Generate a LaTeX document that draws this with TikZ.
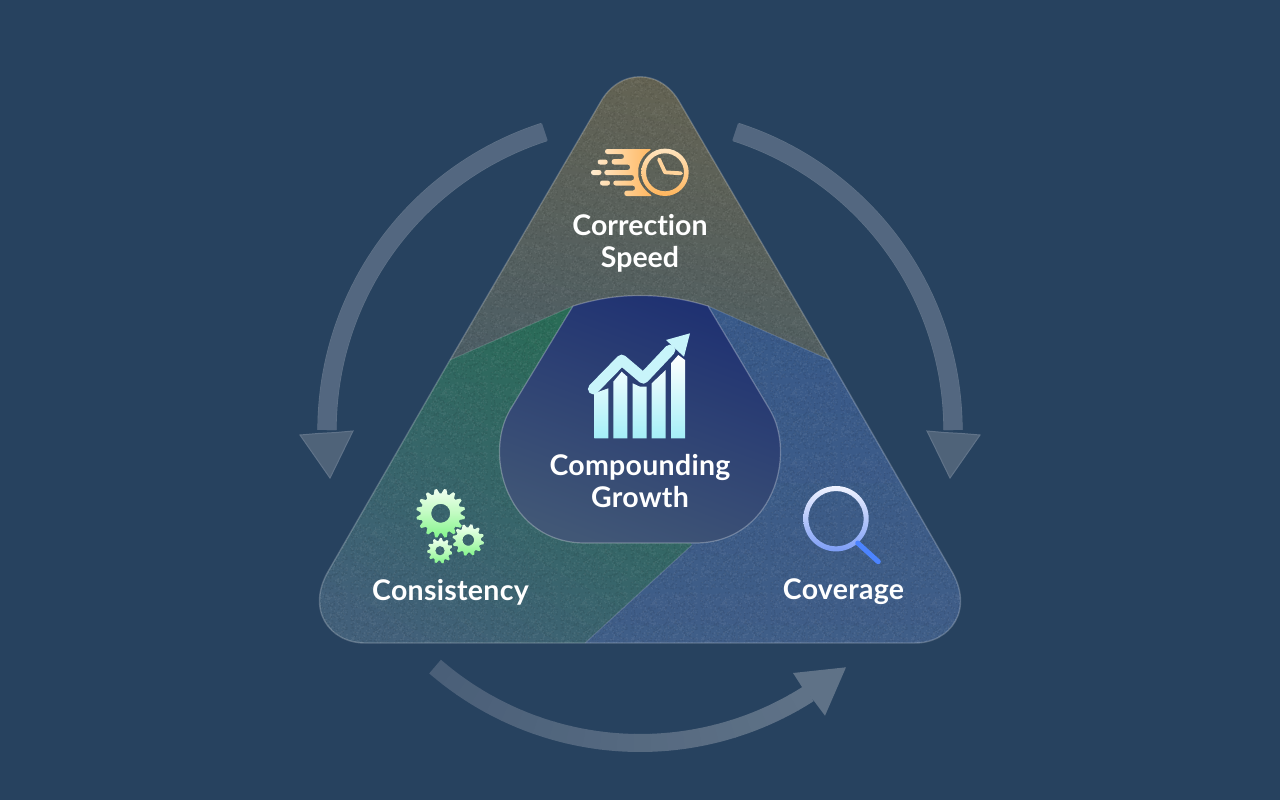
\documentclass[tikz,border=0pt]{standalone}
\usepackage{fontspec}
\setmainfont{Lato}[BoldFont={Lato Bold},Ligatures=NoCommon]
\usetikzlibrary{calc,patterns}
\pgfmathsetseed{11}
\pgfdeclarepatternformonly{grainA}{\pgfqpoint{0pt}{0pt}}{\pgfqpoint{70pt}{70pt}}{\pgfqpoint{70pt}{70pt}}{%
  \foreach \i in {1,...,650}{%
    \pgfmathsetmacro{\rx}{68*rnd}\pgfmathsetmacro{\ry}{68*rnd}%
    \pgfpathrectangle{\pgfpoint{\rx pt}{\ry pt}}{\pgfqpoint{1.2pt}{1.2pt}}%
  }\pgfusepath{fill}}
\pgfdeclarepatternformonly{grainB}{\pgfqpoint{0pt}{0pt}}{\pgfqpoint{70pt}{70pt}}{\pgfqpoint{70pt}{70pt}}{%
  \foreach \i in {1,...,650}{%
    \pgfmathsetmacro{\rx}{68*rnd}\pgfmathsetmacro{\ry}{68*rnd}%
    \pgfpathrectangle{\pgfpoint{\rx pt}{\ry pt}}{\pgfqpoint{1.2pt}{1.2pt}}%
  }\pgfusepath{fill}}
\definecolor{bgc}{HTML}{27425F}
\definecolor{ringa}{HTML}{536780}
\definecolor{ringb}{HTML}{4F6379}
\definecolor{ringe}{HTML}{607389}
\definecolor{botA}{HTML}{4A5F78}
\definecolor{botB}{HTML}{5F7287}
\definecolor{tA}{HTML}{686450}
\definecolor{tB}{HTML}{4C5E66}
\definecolor{gA}{HTML}{296C56}
\definecolor{gB}{HTML}{42607A}
\definecolor{bA}{HTML}{385989}
\definecolor{bB}{HTML}{405E88}
\definecolor{blobA}{HTML}{1E3072}
\definecolor{blobM}{HTML}{2A3F75}
\definecolor{blobB}{HTML}{415776}
\definecolor{tailA}{HTML}{FFEBCF}
\definecolor{tailB}{HTML}{FFB65E}
\definecolor{clockA}{HTML}{FFE3BD}
\definecolor{clockB}{HTML}{FFB55C}
\definecolor{barB}{HTML}{A4EFF8}
\definecolor{lineC}{HTML}{C8F4FA}
\definecolor{magA}{HTML}{F0F3FF}
\definecolor{magB}{HTML}{7C9DF6}
\definecolor{handleC}{HTML}{4C84FF}
\definecolor{gearA}{HTML}{F0FFF0}
\definecolor{gearM}{HTML}{C0FBC0}
\definecolor{gearB}{HTML}{84F58C}
\tikzset{
  lbl/.style={text=white,font=\fontsize{28.5}{31.5}\selectfont\bfseries\addfontfeature{LetterSpace=1},align=center,inner sep=0pt},
  lblplain/.style={text=white,font=\fontsize{28.5}{31.5}\selectfont\bfseries,align=center,inner sep=0pt},
  ringshaft/.style={line width=18pt,color=ringa},
  ringedge/.style={line width=19.2pt,color=ringe},
  ringhead/.style={fill=ringb,draw=ringe,line width=1pt,line join=miter},
  divide/.style={draw=white,draw opacity=.16,line width=1pt},
  outline/.style={draw=white,draw opacity=.22,line width=1.4pt},
}
\newcommand{\triPath}{(600,103) .. controls (619,68) and (661,68) .. (680,103) -- (830,360) -- (951,570) .. controls (975,610) and (950,643) .. (915,643) -- (365,643) .. controls (330,643) and (305,610) .. (329,570) -- (450,360) -- cycle}
\newcommand{\blobPath}{(573,306) .. controls (618,292) and (662,292) .. (708,306) -- (770,410) .. controls (797,456) and (772,543) .. (695,543) -- (585,543) .. controls (508,543) and (483,456) .. (510,410) -- cycle}
% cx cy ro ri teeth hole
\newcommand{\gearShape}[6]{%
  \shade[top color=gearA,bottom color=gearB,middle color=gearM,even odd rule,line join=round]
    plot[domain=0:#5*4-1,samples=#5*4] ({#1+(mod(round(\x),4)<2?#3:#4)*cos(\x*90/#5+8)},{#2+(mod(round(\x),4)<2?#3:#4)*sin(\x*90/#5+8)}) -- cycle
    (#1+#6,#2) arc[start angle=0,end angle=360,radius=#6];}
\begin{document}
\begin{tikzpicture}[x=1pt,y=-1pt]
\useasboundingbox (0,0) rectangle (1280,800);
\fill[bgc] (0,0) rectangle (1280,800);
\coordinate (ring) at (640,430);

% ---- ring arrows
\draw[ringedge] plot[domain=252.1:180,samples=50] ({640+313*cos(\x)},{430+313*sin(\x)});
\draw[ringedge] plot[domain=-72.1:0,samples=50] ({640+313*cos(\x)},{430+313*sin(\x)});
\draw[ringshaft] plot[domain=252.3:180,samples=50] ({640+313*cos(\x)},{430+313*sin(\x)});
\draw[ringshaft] plot[domain=-72.3:0,samples=50] ({640+313*cos(\x)},{430+313*sin(\x)});
\path[ringhead] (300,435) -- (318,433.5) -- (336,432.5) -- (353,431) -- (330,478) -- cycle;
\path[ringhead] (980,435) -- (962,433.5) -- (944,432.5) -- (927,431) -- (950,478) -- cycle;
\foreach \k in {0,...,23}{
  \pgfmathsetmacro{\aa}{130.9-\k*(130.9-57.5)/24}
  \pgfmathsetmacro{\ab}{\aa-(130.9-57.5)/24-0.15}
  \pgfmathsetmacro{\mixp}{100*\k/23}
  \draw[line width=18pt,color=botB!\mixp!botA] plot[domain=\aa:\ab,samples=5] ({640+313*cos(\x)},{430+313*sin(\x)});
}
\fill[botB] (802,687) -- (793,673) -- (846,667.3) -- (825,715.7) -- (814,701) -- cycle;

% ---- triangle regions
\begin{scope}
\clip \triPath;
\shade[top color=tA,bottom color=tB,shading angle=-12]
  (830,360) -- (708,306) -- (573,306) -- (450,360) -- (300,360) -- (300,60) -- (980,60) -- (980,360) -- cycle;
\shade[top color=gA,bottom color=gB,shading angle=-30]
  (450,360) -- (573,306) -- (640,430) -- (692,545) -- (585,643) -- (300,660) -- (300,360) -- cycle;
\shade[top color=bA,bottom color=bB,shading angle=0]
  (830,360) -- (708,306) -- (640,430) -- (692,545) -- (585,643) -- (985,660) -- (985,360) -- cycle;
\fill[pattern=grainA,pattern color=black,fill opacity=.08] (300,60) rectangle (985,660);
\fill[pattern=grainB,pattern color=white,fill opacity=.06] (300,60) rectangle (985,660);
\path[divide] (450,360) -- (573,306) (708,306) -- (830,360) (692,545) -- (585,643);
\end{scope}
\path[outline] \triPath;

% ---- centre
\shade[top color=blobA,middle color=blobM,bottom color=blobB,shading angle=-20] \blobPath;
\path[draw=white,draw opacity=.28,line width=1.2pt] \blobPath;

% ---- clock icon
\shade[left color=tailA,right color=tailB,rounded corners=2.4pt]
  (605,149) -- (652,149) .. controls (643,155) and (638.3,163) .. (638.3,172.3) .. controls (638.3,182) and (644,190) .. (652.7,196)
  -- (624.3,196) -- (624.3,190.7) -- (635,190.7) -- (635,185.5) -- (613.3,185.5) -- (613.3,180.5) -- (634,180.5) -- (634,175)
  -- (604.3,175) -- (604.3,170) -- (630,170) -- (630,164.5) -- (611.7,164.5) -- (611.7,159) -- (624,159) -- (624,154) -- (605,154) -- cycle
  (597.7,159.5) rectangle (607.7,164.5)
  (591,170) rectangle (601.5,175)
  (600,180.5) rectangle (610,185.5);
\shade[top color=clockA,bottom color=clockB,even odd rule]
  (688.7,172.3) arc[start angle=0,end angle=360,radius=23.7]
  (684,172.3) arc[start angle=0,end angle=360,radius=19];
\draw[clockB!35!clockA,line width=3.8pt,line cap=round,line join=round] (659,159.3) -- (665,172.3) -- (681,173.3);

% ---- chart icon
\shade[top color=white,bottom color=barB]
  (594.3,393.3) -- (608.3,388.3) -- (608.3,438.3) -- (594.3,438.3) -- cycle
  (613.3,381.7) -- (621.7,371.7) -- (627.3,376.7) -- (627.3,438.3) -- (613.3,438.3) -- cycle
  (632.7,383.3) -- (640,386.7) -- (646.7,386.7) -- (646.7,438.3) -- (632.7,438.3) -- cycle
  (651.7,383.3) -- (665.7,370) -- (665.7,438.3) -- (651.7,438.3) -- cycle
  (671,363.3) -- (678.3,355) -- (685,360) -- (685,438.3) -- (671,438.3) -- cycle;
\draw[lineC,line width=10.8pt,line cap=round,line join=round] (593.3,389) -- (621.7,360) -- (643.3,378.3) -- (670,350);
\fill[lineC] (690,333.3) -- (666,340) -- (684,356.7) -- cycle;

% ---- gears
\gearShape{440.7}{513.3}{24.5}{20}{16}{9.5}
\gearShape{468.3}{540}{15.8}{12.6}{12}{5.8}
\gearShape{440}{550.7}{12.8}{10}{11}{4.7}

% ---- magnifier
\shade[top color=magA,bottom color=magB,even odd rule]
  (868.7,518.7) arc[start angle=0,end angle=360,radius=32.7]
  (863.7,518.7) arc[start angle=0,end angle=360,radius=27.7];
\draw[handleC,line width=5pt,line cap=round] (857.7,543) -- (878.3,561.7);

% ---- labels
\node[lblplain] (speed) at (640,243.5) {Correction\\Speed};
\node[lbl] (growth) at (640,481) {Compounding\\Growth};
\node[lbl] (cons) at (450.5,592) {Consistency};
\node[lbl] (cov) at (843.5,592) {Coverage};
\end{tikzpicture}
\end{document}
